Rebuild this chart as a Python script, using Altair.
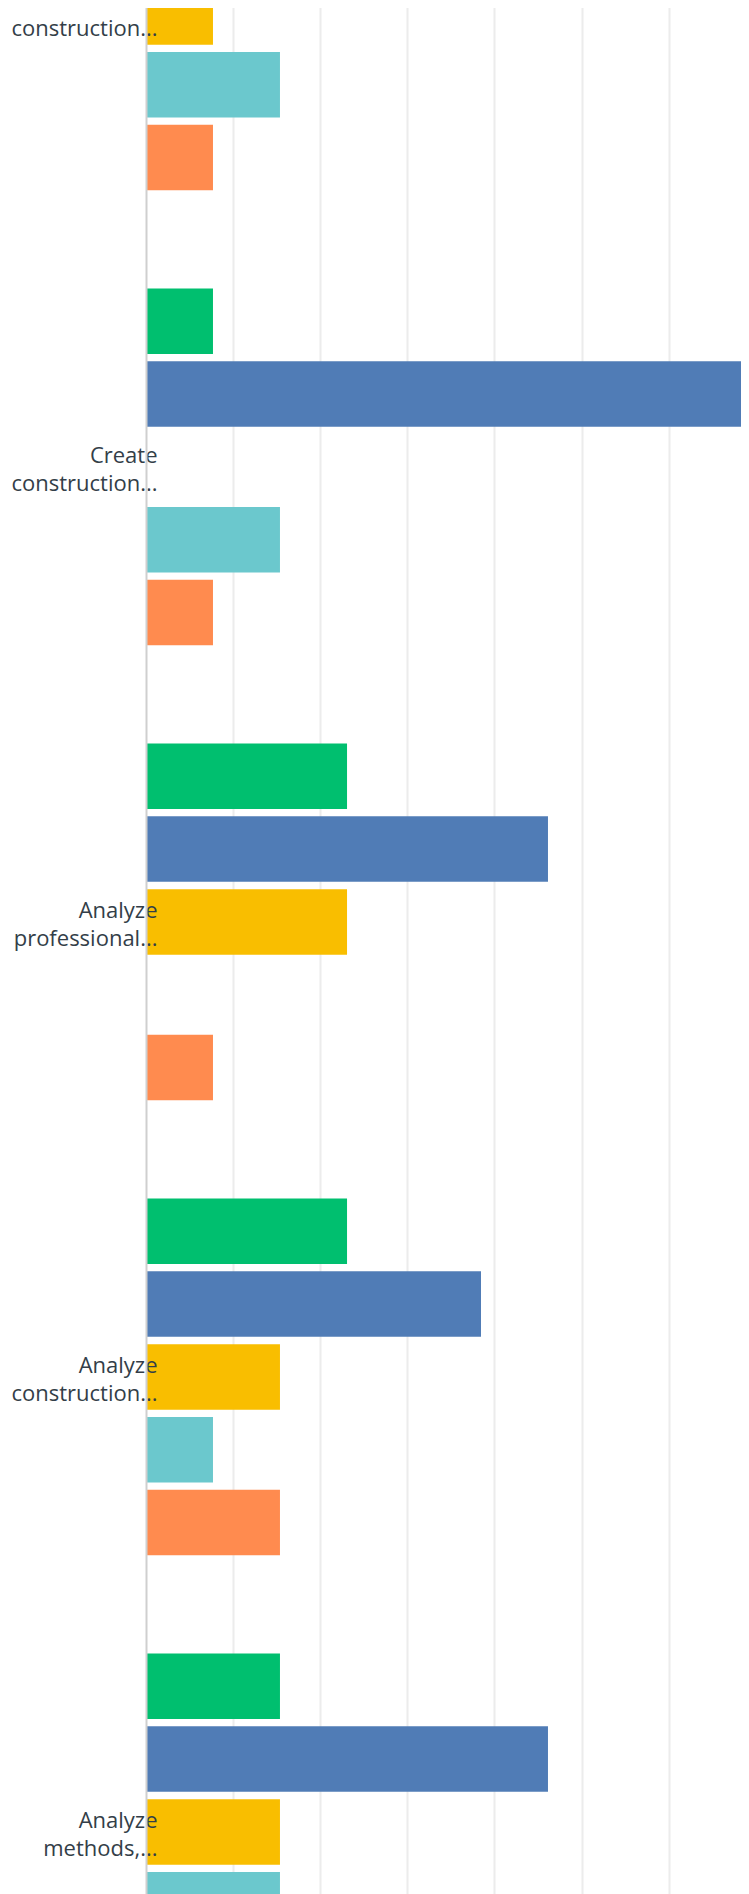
import altair as alt
import pandas as pd

# Categories (question rows), top to bottom; the first row's first line
# lies above the visible area, so it is left blank here
groups = [
    " construction...",
    "Create construction...",
    "Analyze professional...",
    "Analyze construction...",
    "Analyze methods,...",
]

# Answer series in drawing order within each group
series = ["Choice 1", "Choice 2", "Choice 3", "Choice 4", "Choice 5"]
colors = ["#00BF6F", "#507CB6", "#F9BE00", "#6BC8CD", "#FF8B4F"]

# Percent of respondents
choice1_pct = [7.69, 7.69, 23.08, 23.08, 15.38]
choice2_pct = [38.46, 69.23, 46.15, 38.46, 46.15]
choice3_pct = [7.69, 0.0, 23.08, 15.38, 15.38]
choice4_pct = [15.38, 15.38, 0.0, 7.69, 15.38]
choice5_pct = [7.69, 7.69, 7.69, 15.38, 15.38]

grid_values = [10, 20, 30, 40, 50, 60]

all_series = [choice1_pct, choice2_pct, choice3_pct, choice4_pct, choice5_pct]
rows = []
for s_name, vals in zip(series, all_series):
    for g, v in zip(groups, vals):
        rows.append({"group": g, "series": s_name, "pct": v})
df = pd.DataFrame(rows)

chart = (
    alt.Chart(df)
    .mark_bar(clip=True)
    .encode(
        x=alt.X(
            "pct:Q",
            scale=alt.Scale(domain=[0, 68.31], nice=False, zero=True),
            axis=alt.Axis(
                values=grid_values,
                labels=False,
                ticks=False,
                domain=False,
                title=None,
                grid=True,
                gridColor="#ececec",
                gridWidth=2,
            ),
        ),
        y=alt.Y(
            "group:N",
            sort=groups,
            scale=alt.Scale(range=[-223.6, 2051.4], paddingInner=0.2, paddingOuter=0.1),
            axis=alt.Axis(
                title=None,
                ticks=False,
                grid=False,
                domain=True,
                domainColor="#cfcfcf",
                domainWidth=2,
                labelExpr="split(datum.label, ' ')",
                labelAlign="right",
                labelBaseline="middle",
                labelPadding=-11,
                labelOffset=-11,
                labelFont="Open Sans",
                labelFontSize=22,
                labelLineHeight=28,
                labelColor="#333e48",
                labelLimit=400,
                zindex=1,
            ),
        ),
        yOffset=alt.YOffset(
            "series:N",
            sort=series,
            scale=alt.Scale(paddingInner=0.1, paddingOuter=0.05),
        ),
        color=alt.Color(
            "series:N",
            sort=series,
            scale=alt.Scale(domain=series, range=colors),
            legend=None,
        ),
    )
    .properties(
        width=595,
        height=1886,
        autosize=alt.AutoSizeParams(type="none"),
        padding={"left": 138, "top": 0, "right": 0, "bottom": 0},
    )
    .configure_view(strokeWidth=0)
)

chart.save("out.html", embed_options={"renderer": "svg", "actions": False})
